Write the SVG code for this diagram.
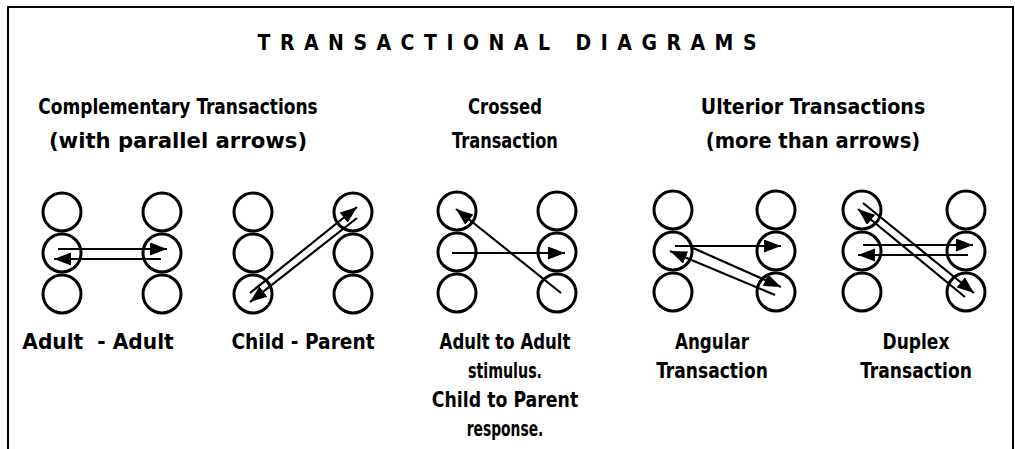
<svg xmlns="http://www.w3.org/2000/svg" width="1015" height="449" viewBox="0 0 1015 449">
<style>
.frame{fill:none;stroke:#000;stroke-width:2}
.c{fill:#fff;stroke:#000;stroke-width:3}
.a{stroke:#000;stroke-width:2.2;fill:none;marker-end:url(#ah)}
text{font-family:"DejaVu Sans Condensed","Liberation Sans Narrow","Liberation Sans",sans-serif;font-stretch:condensed;font-weight:bold;font-size:22px;fill:#000;text-anchor:middle;white-space:pre}
.title{font-size:21px}
</style>
<defs>
<marker id="ah" markerUnits="userSpaceOnUse" markerWidth="18" markerHeight="14" refX="17" refY="6.5" orient="auto">
<path d="M0,0 L17,6.5 L0,13 z" fill="#000"/>
</marker>
</defs>
<rect width="1015" height="449" fill="#fff"/>
<path class="frame" d="M8,449 V7 H1013 V449"/>
<g id="title"><text class="title" x="507" y="50" textLength="499" lengthAdjust="spacing">TRANSACTIONAL DIAGRAMS</text></g>
<g id="headings">
<text transform="translate(178,114) scale(0.862,1)">Complementary Transactions</text>
<text transform="translate(178,148) scale(1.07,1)">(with parallel arrows)</text>
<text transform="translate(505,114) scale(0.831,1)">Crossed</text>
<text transform="translate(505,148) scale(0.82,1)">Transaction</text>
<text transform="translate(813,114) scale(0.962,1)">Ulterior Transactions</text>
<text transform="translate(813,148) scale(0.99,1)">(more than arrows)</text>
</g>
<g id="labels">
<text transform="translate(98,349) scale(1.02,1)">Adult  - Adult</text>
<text transform="translate(303,349) scale(0.94,1)">Child - Parent</text>
<text transform="translate(505,349) scale(0.837,1)">Adult to Adult</text>
<text transform="translate(505,378) scale(0.72,1)">stimulus.</text>
<text transform="translate(505,407) scale(0.876,1)">Child to Parent</text>
<text transform="translate(505,436) scale(0.7,1)">response.</text>
<text transform="translate(712,349) scale(0.845,1)">Angular</text>
<text transform="translate(712,378) scale(0.866,1)">Transaction</text>
<text transform="translate(916,349) scale(0.861,1)">Duplex</text>
<text transform="translate(916,378) scale(0.866,1)">Transaction</text>
</g>
<g id="node-adult-adult">
<circle class="c" cx="62" cy="212" r="19"/><circle class="c" cx="62" cy="253" r="19"/><circle class="c" cx="62" cy="294" r="19"/>
<circle class="c" cx="162" cy="212" r="19"/><circle class="c" cx="162" cy="253" r="19"/><circle class="c" cx="162" cy="294" r="19"/>
</g>
<g id="node-child-parent">
<circle class="c" cx="253" cy="212" r="19"/><circle class="c" cx="253" cy="253" r="19"/><circle class="c" cx="253" cy="294" r="19"/>
<circle class="c" cx="353" cy="212" r="19"/><circle class="c" cx="353" cy="253" r="19"/><circle class="c" cx="353" cy="294" r="19"/>
</g>
<g id="node-crossed">
<circle class="c" cx="457" cy="211" r="19"/><circle class="c" cx="457" cy="252" r="19"/><circle class="c" cx="457" cy="293" r="19"/>
<circle class="c" cx="557" cy="211" r="19"/><circle class="c" cx="557" cy="252" r="19"/><circle class="c" cx="557" cy="293" r="19"/>
</g>
<g id="node-angular">
<circle class="c" cx="673" cy="210" r="19"/><circle class="c" cx="673" cy="251" r="19"/><circle class="c" cx="673" cy="292" r="19"/>
<circle class="c" cx="776" cy="210" r="19"/><circle class="c" cx="776" cy="251" r="19"/><circle class="c" cx="776" cy="292" r="19"/>
</g>
<g id="node-duplex">
<circle class="c" cx="862" cy="210" r="19"/><circle class="c" cx="862" cy="251" r="19"/><circle class="c" cx="862" cy="292" r="19"/>
<circle class="c" cx="966" cy="210" r="19"/><circle class="c" cx="966" cy="251" r="19"/><circle class="c" cx="966" cy="292" r="19"/>
</g>
<g id="connectors">
<line class="a" x1="58" y1="249" x2="167" y2="249"/>
<line class="a" x1="161" y1="259" x2="54" y2="259"/>
<line class="a" x1="250" y1="293" x2="357" y2="207"/>
<line class="a" x1="357" y1="218" x2="250" y2="302"/>
<line class="a" x1="452" y1="253" x2="565" y2="253"/>
<line class="a" x1="561" y1="293" x2="456" y2="209"/>
<line class="a" x1="675" y1="246" x2="781" y2="246"/>
<line class="a" x1="693" y1="248" x2="781" y2="287"/>
<line class="a" x1="775" y1="295" x2="670" y2="251"/>
<line class="a" x1="863" y1="245" x2="973" y2="245"/>
<line class="a" x1="968" y1="255" x2="858" y2="255"/>
<line class="a" x1="863" y1="203" x2="974" y2="293"/>
<line class="a" x1="965" y1="297" x2="858" y2="209"/>
</g>
</svg>
